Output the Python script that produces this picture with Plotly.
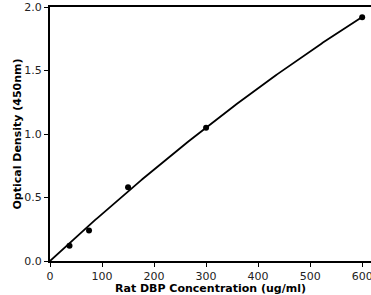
import numpy as np
import plotly.graph_objects as go

conc = [37.5, 75, 150, 300, 600]
od = [0.12, 0.24, 0.58, 1.05, 1.92]

# least-squares fit through the origin: od = a*c + b*c^2
c = np.array(conc, dtype=float)
A = np.vstack([c, c ** 2]).T
(a, b), *_ = np.linalg.lstsq(A, np.array(od), rcond=None)
xs = np.linspace(0, 600, 200)
ys = a * xs + b * xs ** 2

fig = go.Figure()
fig.add_trace(go.Scatter(x=xs, y=ys, mode="lines", line=dict(color="black", width=1.8), showlegend=False, hoverinfo="skip"))
fig.add_trace(go.Scatter(x=conc, y=od, mode="markers", marker=dict(color="black", size=6), showlegend=False))

font = dict(family="DejaVu Sans", size=11, color="#222")
fig.update_layout(
    width=371, height=295,
    margin=dict(l=50, r=0, t=7, b=34),
    plot_bgcolor="white", paper_bgcolor="white",
    font=font,
    xaxis=dict(range=[0, 617], tickvals=[0, 100, 200, 300, 400, 500, 600],
               showline=True, linecolor="black", linewidth=2, mirror=True,
               ticks="outside", ticklen=4, tickcolor="black", showgrid=False, zeroline=False,
               automargin=False, ticklabeloverflow="allow",
               title=dict(text="<b>Rat DBP Concentration (ug/ml)</b>", standoff=3, font=dict(size=11, color="black"))),
    yaxis=dict(range=[0, 2.0], tickvals=[0, 0.5, 1.0, 1.5, 2.0], tickformat=".1f",
               showline=True, linecolor="black", linewidth=2, mirror=False,
               ticks="outside", ticklen=4, tickcolor="black", showgrid=False, zeroline=False,
               automargin=False,
               title=dict(text="<b>Optical Density (450nm)</b>", standoff=0, font=dict(size=11, color="black"))),
)
fig.write_html("out.html", config={"displayModeBar": False},
               post_script="document.body.style.margin='0';document.body.style.overflow='hidden';")
